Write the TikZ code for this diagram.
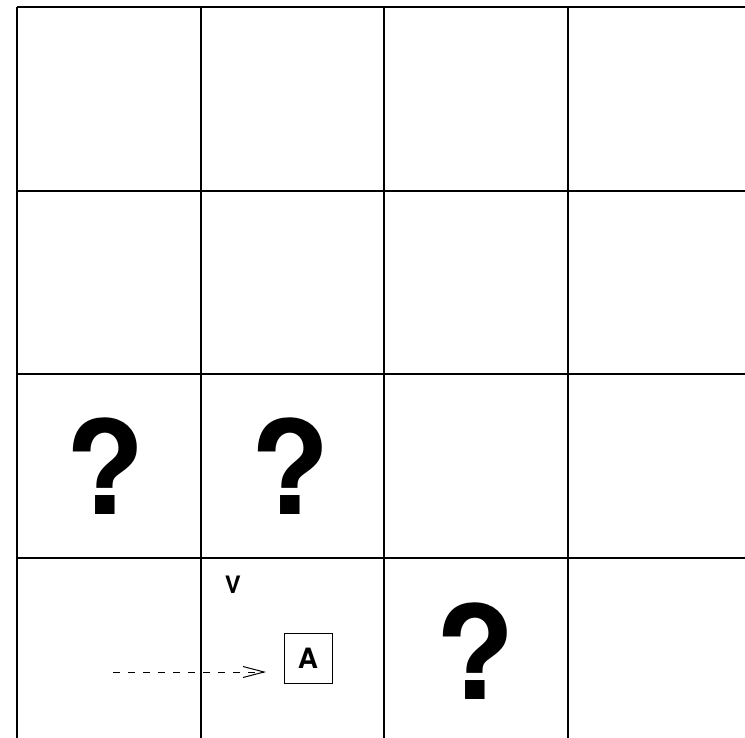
\documentclass[tikz,border=0pt]{standalone}
\usepackage{fontspec}
\setmainfont{TeX Gyre Heros}
\usepackage{tikz}
\usetikzlibrary{arrows.meta,positioning}
\tikzstyle{qmark}=[font=\bfseries\fontsize{130}{130}\selectfont, inner sep=0pt]
\tikzstyle{lbl}=[font=\bfseries\fontsize{24}{24}\selectfont, inner sep=0pt]
\tikzstyle{agent}=[draw=black, line width=1pt, font=\bfseries\fontsize{28}{28}\selectfont,
        minimum width=48pt, minimum height=50pt, inner sep=0pt]

\begin{document}
\begin{tikzpicture}[x=1pt, y=-1pt]
        \useasboundingbox (0,0) rectangle (745,737);
        \clip (0,0) rectangle (745,737);
        % grid
        \foreach \k in {0,1,2,3} {
            \draw[line width=2pt] (17+183.7*\k,7) -- (17+183.7*\k,760);
            \draw[line width=2pt] (17,7+183.5*\k) -- (760,7+183.5*\k);
        }
        \node[qmark] (q1) at (105,466) {?};
        \node[qmark] (q2) at (290,466) {?};
        \node[qmark] (q3) at (475,651) {?};
        \node[lbl] (v) at (233,585) {V};
        \node[agent] (a) at (308,658) {A};

        \coordinate (from) at (113,672);
        \coordinate (to) at (266,672);
        \draw[dashed, dash pattern=on 7pt off 8pt, line width=1pt,
            -{Straight Barb[length=21pt, width=11pt]}] (from) -- (to);
    \end{tikzpicture}
\end{document}
